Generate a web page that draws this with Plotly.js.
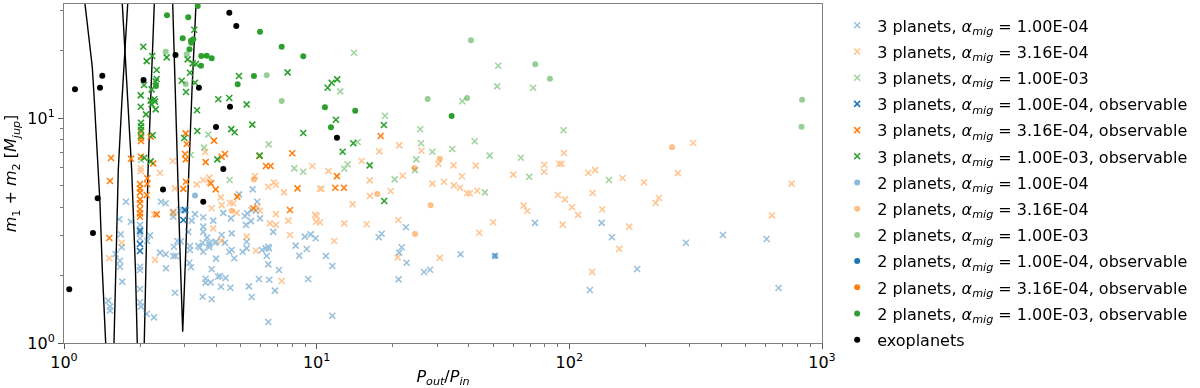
<!DOCTYPE html>
<html>
<head>
<meta charset="utf-8">
<script src="https://cdn.plot.ly/plotly-3.0.1.min.js"></script>
<style>
  html, body { margin: 0; padding: 0; background: #fff; }
  #chart { width: 1200px; height: 388px; }
</style>
</head>
<body>
<div id="chart"></div>
<script>
// period ratio vs total mass, log-log

// resonance boundary arms (black lines)
const arm32LeftX = [1.211, 1.248, 1.294, 1.318, 1.339, 1.375, 1.388, 1.418, 1.462];
const arm32LeftY = [32.1, 23.9, 16.85, 12.02, 8.58, 5.58, 4.19, 2.11, 1.0];
const arm32RightX = [1.577, 1.602, 1.640, 1.696, 1.743, 1.787];
const arm32RightY = [1.0, 2.111, 5.873, 12.02, 19.45, 32.1];
const arm21LeftX = [1.950, 1.918, 1.853, 1.784, 1.739, 1.701];
const arm21LeftY = [1.0, 2.111, 5.873, 12.02, 19.45, 32.1];
const arm21RightX = [2.078, 2.111, 2.150, 2.210, 2.277];
const arm21RightY = [1.0, 2.111, 5.754, 13.32, 32.1];
const vee31X = [2.693, 2.750, 2.808, 2.877, 2.950, 3.026, 3.118, 3.211, 3.330];
const vee31Y = [32.1, 13.32, 5.754, 2.591, 1.123, 2.591, 5.754, 13.32, 32.1];

// 3 planets, alpha = 1.00E-04
const threeLowX = [2.750, 2.707, 2.767, 2.724, 3.132, 3.181, 3.151, 3.151, 3.40, 3.557, 3.996, 3.841, 3.636, 3.636, 3.806, 3.538, 3.841, 4.143, 4.18, 4.364, 4.552, 4.51, 4.61, 4.719, 5.094, 5.284, 5.284, 4.336, 3.996, 3.758, 3.758, 5.395, 5.53, 5.91, 6.075, 6.28, 6.47, 6.341, 6.433, 6.493, 6.838, 6.433, 7.09, 8.26, 8.53, 9.26, 5.58, 5.82, 5.75, 4.926, 5.53, 5.313, 5.20, 5.965, 5.495, 4.27, 4.58, 5.25, 3.897, 3.557, 3.299, 3.202, 2.966, 2.877, 2.707, 3.557, 3.557, 4.207, 4.61, 6.73, 6.433, 8.98, 1.759, 1.841, 1.655, 1.676, 1.692, 1.602, 1.666, 1.666, 1.701, 1.497, 1.521, 1.521, 1.999, 1.999, 1.999, 1.999, 1.999, 1.999, 1.999, 1.999, 2.017, 2.125, 2.27, 2.136, 2.189, 2.398, 2.526, 2.533, 2.42, 2.526, 2.707, 2.808, 2.896, 3.039, 3.103, 3.538, 3.452, 3.758, 3.68, 3.959, 4.07, 9.47, 9.91, 9.13, 10.88, 11.53, 11.53, 17.6, 18.08, 21.7, 21.22, 22.7, 22.56, 21.1, 26.6, 28.1, 37.1, 50.8, 73.1, 134.2, 147.4, 120.6, 185.6, 289.3, 405.3, 603.5, 673.0];
const threeLowY = [1.673, 2.436, 2.436, 2.679, 2.274, 2.17, 2.698, 2.59, 2.698, 2.545, 2.37, 2.126, 1.93, 1.854, 1.861, 1.606, 1.564, 1.986, 1.779, 1.945, 1.761, 2.545, 2.59, 2.38, 2.545, 2.635, 2.82, 2.79, 2.82, 2.79, 2.73, 1.786, 1.601, 1.925, 2.59, 2.635, 2.635, 2.436, 2.237, 1.911, 1.708, 1.24, 2.11, 2.707, 2.443, 1.925, 4.82, 4.246, 3.87, 4.58, 3.90, 3.77, 3.67, 3.58, 3.48, 3.79, 3.58, 3.35, 3.50, 3.62, 3.74, 3.50, 3.90, 3.90, 3.64, 3.29, 3.12, 3.02, 3.07, 3.12, 2.679, 2.97, 4.246, 3.46, 3.55, 3.04, 2.663, 2.486, 2.321, 2.183, 1.873, 1.542, 1.45, 1.392, 3.35, 3.20, 3.07, 2.92, 2.183, 2.11, 1.738, 1.517, 1.45, 1.346, 1.30, 2.84, 3.01, 2.52, 2.48, 2.148, 4.246, 4.18, 3.81, 2.84, 2.83, 3.89, 3.12, 2.79, 2.663, 2.663, 2.94, 2.79, 1.971, 3.04, 2.92, 2.617, 2.436, 2.198, 1.322, 2.95, 3.06, 2.663, 2.52, 2.274, 3.27, 1.919, 2.068, 2.117, 2.48, 2.443, 3.42, 3.42, 2.95, 1.72, 2.133, 2.79, 3.02, 2.90, 1.756];

// 3 planets, alpha = 3.16E-04
const threeMidX = [2.693, 2.750, 3.351, 3.557, 3.758, 3.758, 4.17, 4.54, 4.677, 3.841, 4.824, 5.698, 6.433, 6.776, 6.901, 7.42, 6.901, 7.72, 6.53, 5.965, 5.82, 2.707, 3.897, 1.511, 1.692, 2.398, 2.012, 3.623, 2.277, 2.700, 2.291, 4.207, 4.18, 5.284, 5.75, 6.901, 7.84, 7.269, 9.84, 10.0, 9.94, 10.30, 11.74, 12.86, 13.88, 15.77, 16.25, 19.63, 21.03, 20.92, 30.7, 44.0, 49.96, 65.9, 68.1, 94.1, 90.1, 96.0, 102.4, 108.4, 9.61, 11.12, 10.30, 10.46, 15.07, 17.69, 16.21, 21.22, 26.0, 21.89, 30.3, 34.8, 37.6, 28.7, 31.9, 34.9, 36.9, 39.4, 40.4, 43.2, 42.6, 60.0, 79.5, 79.5, 91.2, 93.2, 95.2, 118.8, 126.6, 123.6, 135.0, 162.5, 197.3, 172.6, 157.6, 123.1, 219.5, 226.2, 268.9, 309.2, 633.4, 757.8, 2.012];
const threeMidY = [6.44, 4.87, 5.07, 5.30, 5.43, 5.16, 4.44, 4.20, 4.18, 3.97, 3.79, 5.52, 4.95, 5.16, 5.04, 4.67, 3.74, 3.50, 3.40, 3.87, 4.03, 3.83, 3.23, 2.38, 2.79, 5.71, 5.98, 7.06, 3.73, 3.77, 2.34, 4.10, 2.85, 2.97, 2.57, 3.35, 3.02, 1.886, 3.71, 3.67, 3.46, 3.44, 2.84, 3.40, 4.13, 3.37, 4.51, 4.74, 3.52, 2.40, 2.39, 3.09, 3.44, 4.08, 3.86, 3.36, 4.55, 4.35, 4.01, 3.71, 6.12, 5.81, 4.85, 4.85, 6.44, 7.11, 5.28, 7.56, 7.15, 5.54, 6.25, 6.16, 5.51, 5.11, 5.21, 5.02, 4.90, 4.63, 4.63, 4.75, 6.14, 5.60, 6.20, 5.77, 6.26, 6.26, 6.99, 5.71, 5.87, 4.64, 3.93, 5.41, 5.18, 3.29, 2.62, 2.07, 4.19, 4.41, 5.69, 7.74, 3.69, 5.11, 5.81];

// 3 planets, alpha = 1.00E-03
const threeHighX = [3.724, 3.581, 3.173, 4.525, 6.457, 8.154, 2.017, 14.05, 12.40, 18.63, 14.53, 8.849, 13.26, 12.86, 20.35, 25.7, 25.9, 28.7, 24.8, 24.5, 34.4, 37.7, 42.2, 48.4, 51.8, 52.3, 64.3, 69.4, 71.9, 94.9, 46.3, 143.4];
const threeHighY = [8.43, 7.38, 6.85, 5.30, 7.64, 5.976, 6.51, 19.5, 13.14, 10.23, 7.82, 5.77, 6.23, 5.95, 5.34, 8.91, 7.72, 7.08, 6.55, 5.87, 7.28, 11.87, 7.88, 6.8, 13.83, 17.08, 6.66, 5.48, 13.63, 8.82, 4.67, 5.30];

// 3 planets, observable
const threeLowObsX = [1.999, 1.999, 1.999, 3.012, 2.966];
const threeLowObsY = [3.146, 2.754, 2.564, 3.90, 3.52];
const threeMidObsX = [1.535, 1.841, 2.017, 2.017, 2.017, 2.203, 3.031, 3.059, 3.012, 3.031, 2.256, 3.636, 3.923, 2.017, 1.521, 1.511, 1.999, 1.999, 1.999, 1.999, 1.999, 1.999, 1.999, 1.999, 2.136, 2.136, 2.125, 2.966, 3.039, 3.817, 3.985, 2.327, 4.207, 4.336, 4.851, 5.61, 5.926, 6.30, 6.575, 8.007, 8.395, 7.84, 12.03, 12.82, 11.85, 17.92];
const threeMidObsY = [6.64, 6.59, 8.69, 8.15, 7.90, 8.26, 8.55, 7.66, 6.92, 6.55, 6.29, 6.37, 7.93, 6.73, 5.25, 2.93, 5.09, 4.87, 4.67, 4.35, 4.18, 3.93, 3.77, 3.64, 5.40, 5.09, 4.55, 4.84, 5.21, 5.13, 4.82, 3.73, 6.73, 6.92, 4.47, 3.97, 6.78, 6.12, 6.12, 6.97, 4.87, 3.90, 5.52, 4.90, 4.90, 8.32];
const threeHighObsX = [2.060, 2.236, 2.125, 2.549, 2.327, 3.279, 3.087, 3.231, 3.329, 3.151, 2.923, 3.039, 3.299, 2.327, 2.306, 2.073, 2.223, 2.012, 2.277, 2.203, 2.291, 2.012, 2.223, 2.306, 2.111, 3.36, 2.017, 2.017, 2.017, 2.017, 2.244, 3.369, 2.992, 2.078, 2.203, 4.043, 4.08, 4.51, 4.926, 5.284, 5.561, 4.592, 4.737, 7.677, 5.948, 11.05, 11.47, 12.06, 11.92, 18.46, 8.85, 13.96, 12.67, 16.21, 18.51];
const threeHighObsY = [20.74, 18.86, 17.91, 18.61, 16.34, 24.68, 18.23, 17.5, 17.38, 15.89, 14.64, 13.05, 14.35, 14.9, 14.55, 14.02, 13.41, 12.61, 12.11, 11.94, 11.82, 11.22, 11.5, 10.93, 10.38, 10.82, 9.53, 9.15, 8.84, 8.32, 8.38, 8.75, 8.15, 6.66, 6.42, 6.55, 12.11, 12.27, 15.37, 11.5, 9.34, 8.93, 8.64, 15.96, 6.8, 13.63, 14.35, 14.85, 9.82, 9.31, 8.58, 7.72, 7.08, 6.16, 4.276];

// 2 planets
const twoLowX = [3.299, 50.8];
const twoLowY = [4.52, 2.436];
const twoMidX = [30.7, 24.4, 17.37, 28.25, 24.5, 5.646, 4.61, 255];
const twoMidY = [6.59, 6.0, 4.59, 4.09, 3.05, 5.33, 3.873, 7.41];
const twoHighX = [2.526, 3.059, 3.031, 6.341, 7.269, 27.5, 39.4, 40.8, 73.3, 83.8, 834, 830];
const twoHighY = [19.71, 19.19, 14.16, 15.48, 11.9, 12.14, 12.27, 22.14, 17.32, 14.95, 12.06, 9.15];
// no observable 2-planet systems at the two lower alphas
const twoLowObsX = [];
const twoLowObsY = [];
const twoMidObsX = [];
const twoMidObsY = [];
const twoHighObsX = [2.556, 3.103, 3.382, 2.950, 3.181, 3.249, 3.190, 3.138, 3.494, 3.670, 3.841, 3.484, 2.312, 5.965, 7.269, 5.646, 4.868, 8.849, 10.78, 14.21, 11.39, 34.2];
const twoHighObsY = [28.6, 28.03, 31.46, 22.61, 22.06, 22.37, 21.61, 20.19, 18.86, 18.91, 18.42, 17.08, 13.87, 24.17, 20.74, 15.37, 14.11, 18.80, 11.15, 10.77, 9.09, 10.2];

// exoplanets
const exoX = [1.049, 1.105, 1.302, 1.359, 1.388, 1.418, 2.064, 2.465, 2.763, 3.42, 3.557, 3.996, 4.270, 4.510, 4.54, 4.807, 12.03];
const exoY = [1.733, 13.42, 3.083, 4.398, 13.64, 15.42, 14.75, 4.81, 19.05, 13.64, 4.246, 9.12, 5.934, 29.38, 11.23, 25.63, 8.175];

const xTickVals = [1, 10, 100, 1000];
const xTickText = ["10<sup>0</sup>", "10<sup>1</sup>", "10<sup>2</sup>", "10<sup>3</sup>"];
const yTickVals = [1, 10];
const yTickText = ["10<sup>0</sup>", "10<sup>1</sup>"];
const xMinorVals = [2, 3, 4, 5, 6, 7, 8, 9, 20, 30, 40, 50, 60, 70, 80, 90, 200, 300, 400, 500, 600, 700, 800, 900];
const yMinorVals = [2, 3, 4, 5, 6, 7, 8, 9, 20, 30];

const BLUE = "#1f77b4", ORANGE = "#ff7f0e", GREEN = "#2ca02c";
const alphaLabel = v => "<i>α</i><sub><i>mig</i></sub> = " + v;

function curve(x, y) {
  return { x: x, y: y, mode: "lines", showlegend: false, hoverinfo: "skip",
    line: { color: "#000000", width: 1.4 } };
}

function crosses(x, y, name, color, faded) {
  return { x: x, y: y, mode: "markers", name: name, legendgroup: name, opacity: faded ? 0.45 : 1,
    marker: { symbol: "x-thin", size: 6, color: color, line: { color: color, width: 1.6 } } };
}

function dots(x, y, name, color, faded) {
  // an empty series gets one blank point so plotly keeps its legend row
  return { x: x.length ? x : [null], y: y.length ? y : [null],
    mode: "markers", name: name, legendgroup: name, opacity: faded ? 0.5 : 1,
    marker: { symbol: "circle", size: 6, color: color, line: { width: 0 } } };
}

const traces = [
  curve(arm32LeftX, arm32LeftY),
  curve(arm32RightX, arm32RightY),
  curve(arm21LeftX, arm21LeftY),
  curve(arm21RightX, arm21RightY),
  curve(vee31X, vee31Y),
  crosses(threeLowX, threeLowY, "3 planets, " + alphaLabel("1.00E-04"), BLUE, true),
  crosses(threeMidX, threeMidY, "3 planets, " + alphaLabel("3.16E-04"), ORANGE, true),
  crosses(threeHighX, threeHighY, "3 planets, " + alphaLabel("1.00E-03"), GREEN, true),
  crosses(threeLowObsX, threeLowObsY, "3 planets, " + alphaLabel("1.00E-04") + ", observable", BLUE, false),
  crosses(threeMidObsX, threeMidObsY, "3 planets, " + alphaLabel("3.16E-04") + ", observable", ORANGE, false),
  crosses(threeHighObsX, threeHighObsY, "3 planets, " + alphaLabel("1.00E-03") + ", observable", GREEN, false),
  dots(twoLowX, twoLowY, "2 planets, " + alphaLabel("1.00E-04"), BLUE, true),
  dots(twoMidX, twoMidY, "2 planets, " + alphaLabel("3.16E-04"), ORANGE, true),
  dots(twoHighX, twoHighY, "2 planets, " + alphaLabel("1.00E-03"), GREEN, true),
  dots(twoLowObsX, twoLowObsY, "2 planets, " + alphaLabel("1.00E-04") + ", observable", BLUE, false),
  dots(twoMidObsX, twoMidObsY, "2 planets, " + alphaLabel("3.16E-04") + ", observable", ORANGE, false),
  dots(twoHighObsX, twoHighObsY, "2 planets, " + alphaLabel("1.00E-03") + ", observable", GREEN, false),
  dots(exoX, exoY, "exoplanets", "#000000", false)
];

const axisCommon = {
  type: "log",
  showgrid: false,
  zeroline: false,
  showline: true,
  mirror: true,
  linecolor: "#808080",
  linewidth: 1,
  ticks: "outside",
  ticklen: 5,
  tickwidth: 1,
  tickcolor: "#555",
  tickmode: "array",
  tickfont: { family: "DejaVu Sans", size: 16, color: "#000" }
};

const layout = {
  width: 1200,
  height: 388,
  margin: { t: 4, r: 378, b: 45, l: 64 },
  paper_bgcolor: "#fff",
  plot_bgcolor: "#fff",
  font: { family: "DejaVu Sans", size: 16, color: "#000" },
  xaxis: Object.assign({}, axisCommon, {
    range: [0, 3],
    tickvals: xTickVals,
    ticktext: xTickText,
    minor: { tickmode: "array", tickvals: xMinorVals, ticks: "outside", ticklen: 3, tickcolor: "#777" },
    title: { text: "<i>P</i><sub><i>out</i></sub>/<i>P</i><sub><i>in</i></sub>", standoff: 4,
      font: { family: "DejaVu Sans", size: 16 } }
  }),
  yaxis: Object.assign({}, axisCommon, {
    range: [0, 1.5067],
    tickvals: yTickVals,
    ticktext: yTickText,
    minor: { tickmode: "array", tickvals: yMinorVals, ticks: "outside", ticklen: 3, tickcolor: "#777" },
    title: { text: "<i>m</i><sub>1</sub> + <i>m</i><sub>2</sub> [<i>M</i><sub><i>jup</i></sub>]", standoff: 6,
      font: { family: "DejaVu Sans", size: 16 } }
  }),
  legend: {
    x: 1.02, xanchor: "left",
    y: 0.987, yanchor: "top",
    font: { family: "DejaVu Sans", size: 16, color: "#000" },
    bgcolor: "rgba(0,0,0,0)",
    itemwidth: 30,
    tracegroupgap: 2.4,
    maxheight: 388
  },
  showlegend: true
};

Plotly.newPlot("chart", traces, layout, { staticPlot: true, displayModeBar: false });
</script>
</body>
</html>
